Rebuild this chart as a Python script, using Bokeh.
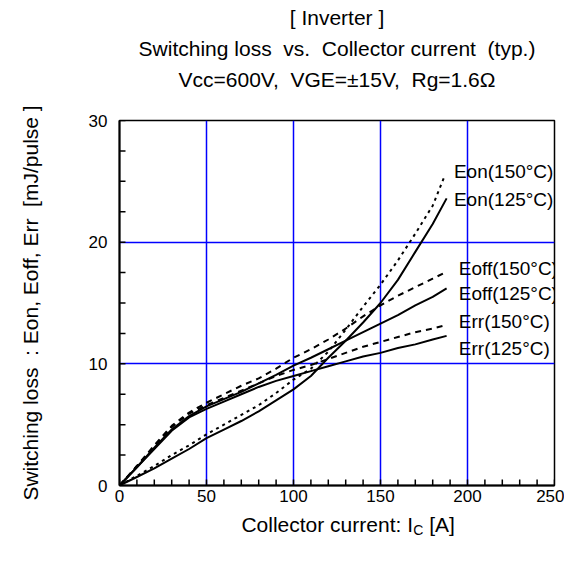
from bokeh.plotting import figure
from bokeh.models import Title, Label, FixedTicker, Range1d
from bokeh.layouts import column
from bokeh.embed import file_html
from bokeh.resources import INLINE

# ---- data ----
ic = [0, 10, 20, 30, 40, 50, 60, 70, 80, 90, 100, 110, 120, 130, 140, 150, 160, 170, 180, 188]
ic_150 = [0, 10, 20, 30, 40, 50, 60, 70, 80, 90, 100, 110, 120, 130, 140, 150, 160, 170, 180, 187]

eon_125 = [0, 0.7, 1.4, 2.2, 3.0, 3.9, 4.6, 5.3, 6.1, 7.0, 7.9, 9.0, 10.5, 11.9, 13.4, 15.0, 16.9, 19.2, 21.5, 23.6]
eon_150 = [0, 0.8, 1.6, 2.5, 3.3, 4.2, 5.0, 5.8, 6.6, 7.6, 8.7, 9.6, 11.0, 12.8, 14.7, 16.5, 18.5, 20.7, 23.0, 25.5]
eoff_125 = [0, 1.5, 3.1, 4.6, 5.7, 6.5, 7.1, 7.7, 8.4, 9.1, 9.85, 10.5, 11.2, 11.9, 12.6, 13.3, 14.0, 14.8, 15.5, 16.2]
eoff_150 = [0, 1.6, 3.3, 4.9, 6.0, 6.8, 7.5, 8.2, 8.8, 9.6, 10.5, 11.2, 12.0, 12.9, 13.9, 14.8, 15.6, 16.3, 17.0, 17.5]
err_125 = [0, 1.5, 3.0, 4.5, 5.6, 6.3, 6.9, 7.5, 8.1, 8.6, 9.0, 9.4, 9.8, 10.2, 10.6, 10.9, 11.3, 11.6, 12.0, 12.3]
err_150 = [0, 1.6, 3.2, 4.8, 5.9, 6.6, 7.2, 7.8, 8.4, 9.0, 9.5, 9.9, 10.4, 10.9, 11.4, 11.8, 12.2, 12.6, 12.9, 13.2]

x_ticks = [0, 50, 100, 150, 200, 250]
y_ticks = [0, 10, 20, 30]
x_minor = list(range(0, 251, 10))
y_minor = [i * 2.5 for i in range(13)]
curve_names = ["Eon(150°C)", "Eon(125°C)", "Eoff(150°C)", "Eoff(125°C)", "Err(150°C)", "Err(125°C)"]

SP2 = " \u00a0"  # visible double space
title_lines = ["[ Inverter ]",
               "Switching loss" + SP2 + "vs." + SP2 + "Collector current" + SP2 + "(typ.)",
               "Vcc=600V," + SP2 + "VGE=±15V," + SP2 + "Rg=1.6Ω"]
y_label = "Switching loss" + SP2 + ": Eon, Eoff, Err" + SP2 + "[mJ/pulse ]"
x_label_main, x_label_sub, x_label_unit = "Collector current: I", "C", "[A]"

FONT = "Liberation Sans"
TICK_FS = "17px"
TITLE_FS = "21px"
LABEL_FS = "19px"

W = 564
FW, FH = 435, 366          # frame size (grid lines land on whole pixels)
LEFT, TOP, BOTTOM = 119, 119, 25
H1 = TOP + FH + BOTTOM
p = figure(width=W, height=H1, x_range=Range1d(0, 250), y_range=Range1d(0, 30),
           output_backend="svg", toolbar_location=None, title=None,
           min_border_left=LEFT, min_border_right=W - LEFT - FW,
           min_border_top=TOP, min_border_bottom=BOTTOM)

# spacer between frame and title block
p.add_layout(Title(text=" ", text_font_size="1px", standoff=24), "above")
for t in reversed(title_lines):
    p.add_layout(Title(text=t, align="center", text_font=FONT, text_font_size=TITLE_FS,
                       text_font_style="normal", text_color="black", standoff=6), "above")

p.background_fill_color = "white"
p.border_fill_color = "white"
p.outline_line_color = "black"
p.outline_line_width = 1.5

# grid
p.xgrid.ticker = FixedTicker(ticks=[50, 100, 150, 200])
p.ygrid.ticker = FixedTicker(ticks=[10, 20])
for g in (p.xgrid, p.ygrid):
    g.grid_line_color = "#0000ff"
    g.grid_line_width = 1.5

# axes
p.xaxis.ticker = FixedTicker(ticks=x_ticks)
p.yaxis.ticker = FixedTicker(ticks=y_ticks)
for ax in (p.xaxis, p.yaxis):
    ax.axis_line_width = 2
    ax.axis_line_color = "black"
    ax.major_tick_in = 0
    ax.major_tick_out = 0
    ax.minor_tick_in = 0
    ax.minor_tick_out = 0
    ax.major_label_text_font = FONT
    ax.major_label_text_font_size = TICK_FS
    ax.major_label_text_color = "black"
    ax.axis_label_text_font = FONT
    ax.axis_label_text_font_size = TITLE_FS
    ax.axis_label_text_font_style = "normal"
    ax.axis_label_text_color = "black"

p.xaxis.major_label_standoff = 4
p.yaxis.major_label_standoff = 12
p.yaxis.axis_label = y_label
p.yaxis.axis_label_standoff = 44

# inward tick marks (drawn from the tick lists; length ~6 px)
TICK_X_LEN = 6 * 250 / FW
TICK_Y_LEN = 6 * 30 / FH
p.segment(x0=x_minor, y0=[0] * len(x_minor), x1=x_minor, y1=[TICK_Y_LEN] * len(x_minor),
          line_color="black", line_width=1.5)
p.segment(x0=[0] * len(y_minor), y0=y_minor, x1=[TICK_X_LEN] * len(y_minor), y1=y_minor,
          line_color="black", line_width=1.5)

# curves
LW = 2
p.line(ic_150, eon_150, line_color="black", line_width=LW, line_dash="3 4")
p.line(ic, eon_125, line_color="black", line_width=LW)
p.line(ic_150, eoff_150, line_color="black", line_width=LW, line_dash="6 5")
p.line(ic, eoff_125, line_color="black", line_width=LW)
p.line(ic, err_150, line_color="black", line_width=LW, line_dash="6 5")
p.line(ic, err_125, line_color="black", line_width=LW)

# curve labels
label_pos = [(192.2, 25.8), (192.2, 23.5), (195, 17.8), (195, 15.8), (195, 13.5), (195, 11.3)]
for name, (lx, ly) in zip(curve_names, label_pos):
    p.add_layout(Label(x=lx, y=ly, text=name, text_font=FONT, text_font_size=LABEL_FS,
                       text_baseline="middle", text_align="left", text_color="black"))

# x axis label strip (with subscript) below the chart
H2 = 559 - H1
q = figure(width=W, height=H2, x_range=Range1d(0, W), y_range=Range1d(0, H2),
           output_backend="svg", toolbar_location=None, title=None,
           x_axis_type=None, y_axis_type=None, min_border=0)
q.grid.visible = False
q.outline_line_color = None
q.background_fill_color = "white"
q.border_fill_color = "white"
LY = H2 - 14
LX = 380.5
q.add_layout(Label(x=LX, y=LY, text=x_label_main, text_font=FONT, text_font_size=TITLE_FS,
                   text_baseline="middle", text_align="right", text_color="black"))
q.add_layout(Label(x=LX + 0.5, y=LY - 5, text=x_label_sub, text_font=FONT, text_font_size="14px",
                   text_baseline="middle", text_align="left", text_color="black"))
q.add_layout(Label(x=LX + 21, y=LY, text=x_label_unit, text_font=FONT, text_font_size=TITLE_FS,
                   text_baseline="middle", text_align="left", text_color="black"))

layout = column(p, q, spacing=0)
open("out.html", "w").write(file_html(layout, INLINE))
